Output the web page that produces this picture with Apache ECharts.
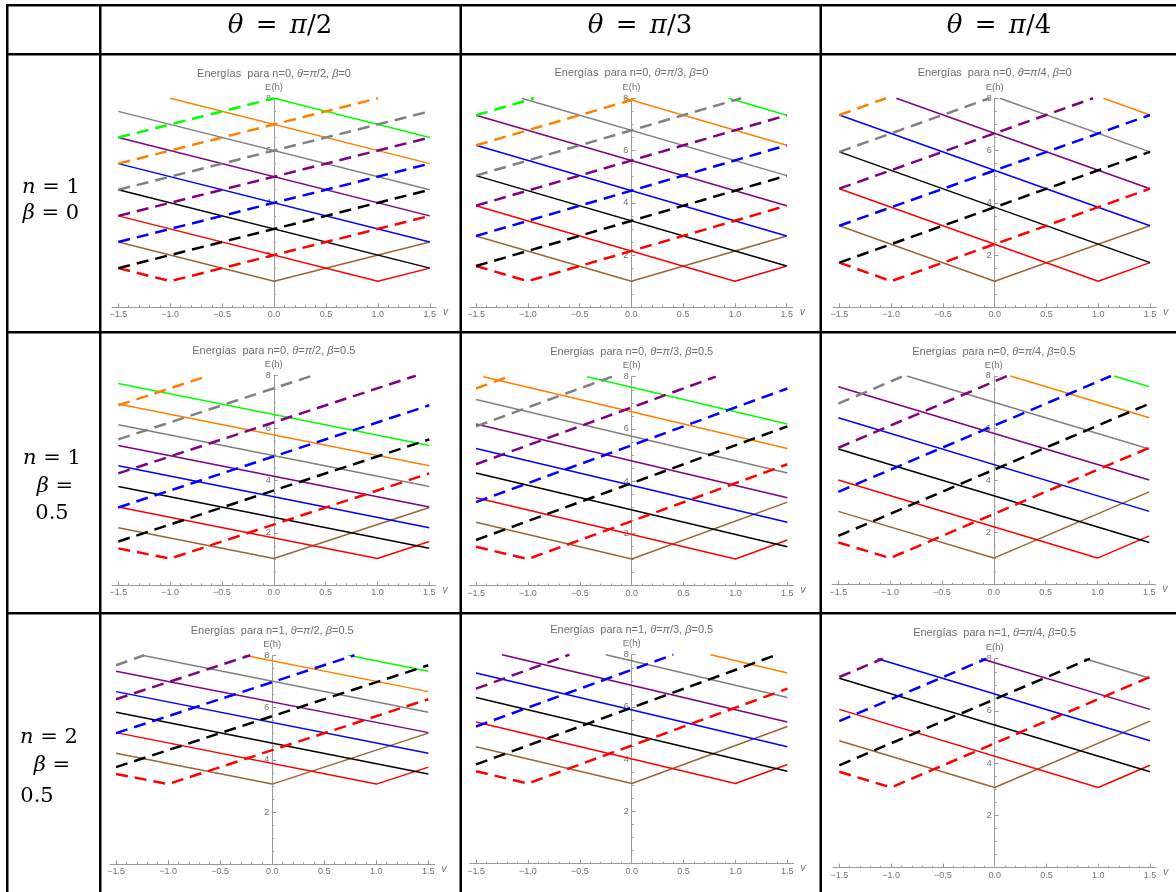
<!DOCTYPE html>
<html><head><meta charset="utf-8">
<script src="https://cdn.jsdelivr.net/npm/echarts@6/dist/echarts.min.js"></script>
<style>html,body{margin:0;padding:0;background:#fff}#c{width:1176px;height:892px}</style>
</head><body><div id="c"></div>
<script>
// ---------- DATA ----------
// level index k: 0 brown, 1 red, 2 black, 3 blue, 4 purple, 5 gray, 6 orange, 7 green
const levelColors = ['#996633','#ff0000','#000000','#0000ff','#800080','#808080','#ff8000','#00ff00'];
const vTicks = [-1.5,-1,-0.5,0,0.5,1,1.5];
const vMinorTicks = [-1.4,-1.3,-1.2,-1.1,-0.9,-0.8,-0.7,-0.6,-0.4,-0.3,-0.2,-0.1,0.1,0.2,0.3,0.4,0.6,0.7,0.8,0.9,1.1,1.2,1.3,1.4];
const colHeaders = ['π/2','π/3','π/4'];
const plotTitles = [
  ['0','π/2','0'],['0','π/3','0'],['0','π/4','0'],
  ['0','π/2','0.5'],['0','π/3','0.5'],['0','π/4','0.5'],
  ['1','π/2','0.5'],['1','π/3','0.5'],['1','π/4','0.5']
];

// Row 1: n=0, beta=0
const r1c1_solid = [
  [[-1.5,2.5],[0,1],[1.5,2.5]],
  [[-1.5,3.5],[1,1],[1.5,1.5]],
  [[-1.5,4.5],[1.5,1.5]],
  [[-1.5,5.5],[1.5,2.5]],
  [[-1.5,6.5],[1.5,3.5]],
  [[-1.5,7.5],[1.5,4.5]],
  [[-1,8],[1.5,5.5]],
  [[0,8],[1.5,6.5]]
];
const r1c1_dashed = [
  null,
  [[-1.5,1.5],[-1,1],[1.5,3.5]],
  [[-1.5,1.5],[1.5,4.5]],
  [[-1.5,2.5],[1.5,5.5]],
  [[-1.5,3.5],[1.5,6.5]],
  [[-1.5,4.5],[1.5,7.5]],
  [[-1.5,5.5],[1,8]],
  [[-1.5,6.5],[0,8]]
];
const r1c2_solid = [
  [[-1.5,2.73],[0,1],[1.5,2.73]],
  [[-1.5,3.89],[1,1],[1.5,1.58]],
  [[-1.5,5.04],[1.5,1.58]],
  [[-1.5,6.20],[1.5,2.73]],
  [[-1.5,7.35],[1.5,3.89]],
  [[-1.06,8],[1.5,5.04]],
  [[-0.06,8],[1.5,6.20]],
  [[0.94,8],[1.5,7.35]]
];
const r1c2_dashed = [
  null,
  [[-1.5,1.58],[-1,1],[1.5,3.89]],
  [[-1.5,1.58],[1.5,5.04]],
  [[-1.5,2.73],[1.5,6.20]],
  [[-1.5,3.89],[1.5,7.35]],
  [[-1.5,5.04],[1.06,8]],
  [[-1.5,6.20],[0.06,8]],
  [[-1.5,7.35],[-0.94,8]]
];
const r1c3_solid = [
  [[-1.5,3.12],[0,1],[1.5,3.12]],
  [[-1.5,4.54],[1,1],[1.5,1.71]],
  [[-1.5,5.95],[1.5,1.71]],
  [[-1.5,7.36],[1.5,3.12]],
  [[-0.95,8],[1.5,4.54]],
  [[0.05,8],[1.5,5.95]],
  [[1.05,8],[1.5,7.36]],
  null
];
const r1c3_dashed = [
  null,
  [[-1.5,1.71],[-1,1],[1.5,4.54]],
  [[-1.5,1.71],[1.5,5.95]],
  [[-1.5,3.12],[1.5,7.36]],
  [[-1.5,4.54],[0.95,8]],
  [[-1.5,5.95],[-0.05,8]],
  [[-1.5,7.36],[-1.05,8]],
  null
];
// Row 2: n=0, beta=0.5
const r2c1_solid = [
  [[-1.5,2.20],[0,1.02],[1.5,2.97]],
  [[-1.5,2.99],[1,1.02],[1.5,1.67]],
  [[-1.5,3.77],[1.5,1.41]],
  [[-1.5,4.56],[1.5,2.20]],
  [[-1.5,5.34],[1.5,2.99]],
  [[-1.5,6.13],[1.5,3.77]],
  [[-1.5,6.92],[1.5,4.56]],
  [[-1.5,7.70],[1.5,5.34]]
];
const r2c1_dashed = [
  null,
  [[-1.5,1.41],[-1,1.02],[1.5,4.27]],
  [[-1.5,1.67],[1.5,5.57]],
  [[-1.5,2.97],[1.5,6.87]],
  [[-1.5,4.27],[1.37,8]],
  [[-1.5,5.57],[0.37,8]],
  [[-1.5,6.87],[-0.63,8]],
  null
];
const r2c2_solid = [
  [[-1.5,2.43],[0,1.02],[1.5,3.20]],
  [[-1.5,3.37],[1,1.02],[1.5,1.75]],
  [[-1.5,4.31],[1.5,1.49]],
  [[-1.5,5.25],[1.5,2.43]],
  [[-1.5,6.19],[1.5,3.37]],
  [[-1.5,7.13],[1.5,4.31]],
  [[-1.43,8],[1.5,5.25]],
  [[-0.43,8],[1.5,6.19]]
];
const r2c2_dashed = [
  null,
  [[-1.5,1.49],[-1,1.02],[1.5,4.65]],
  [[-1.5,1.75],[1.5,6.10]],
  [[-1.5,3.20],[1.5,7.55]],
  [[-1.5,4.65],[0.81,8]],
  [[-1.5,6.10],[-0.19,8]],
  [[-1.5,7.55],[-1.19,8]],
  null
];
const r2c3_solid = [
  [[-1.5,2.81],[0,1.02],[1.5,3.56]],
  [[-1.5,4.01],[1,1.02],[1.5,1.87]],
  [[-1.5,5.20],[1.5,1.62]],
  [[-1.5,6.40],[1.5,2.81]],
  [[-1.5,7.59],[1.5,4.01]],
  [[-0.84,8],[1.5,5.20]],
  [[0.16,8],[1.5,6.40]],
  [[1.16,8],[1.5,7.59]]
];
const r2c3_dashed = [
  null,
  [[-1.5,1.62],[-1,1.02],[1.5,5.25]],
  [[-1.5,1.87],[1.5,6.94]],
  [[-1.5,3.56],[1.13,8]],
  [[-1.5,5.25],[0.13,8]],
  [[-1.5,6.94],[-0.87,8]],
  null,
  null
];
// Row 3: n=1, beta=0.5
const r3c1_solid = [
  [[-1.5,4.25],[0,3.07],[1.5,5.02]],
  [[-1.5,5.04],[1,3.07],[1.5,3.72]],
  [[-1.5,5.82],[1.5,3.46]],
  [[-1.5,6.61],[1.5,4.25]],
  [[-1.5,7.39],[1.5,5.04]],
  [[-1.25,8],[1.5,5.82]],
  [[-0.27,8],[1.5,6.61]],
  [[0.73,8],[1.5,7.39]]
];
const r3c1_dashed = [
  null,
  [[-1.5,3.46],[-1,3.07],[1.5,6.32]],
  [[-1.5,3.72],[1.5,7.62]],
  [[-1.5,5.02],[0.79,8]],
  [[-1.5,6.32],[-0.21,8]],
  [[-1.5,7.62],[-1.23,8]],
  null,
  null
];
const r3c2_solid = [
  [[-1.5,4.48],[0,3.07],[1.5,5.25]],
  [[-1.5,5.42],[1,3.07],[1.5,3.80]],
  [[-1.5,6.36],[1.5,3.54]],
  [[-1.5,7.30],[1.5,4.48]],
  [[-1.25,8],[1.5,5.42]],
  [[-0.25,8],[1.5,6.36]],
  [[0.76,8],[1.5,7.30]],
  null
];
const r3c2_dashed = [
  null,
  [[-1.5,3.54],[-1,3.07],[1.5,6.70]],
  [[-1.5,3.80],[1.40,8]],
  [[-1.5,5.25],[0.40,8]],
  [[-1.5,6.70],[-0.60,8]],
  null,
  null,
  null
];
const r3c3_solid = [
  [[-1.5,4.86],[0,3.07],[1.5,5.61]],
  [[-1.5,6.06],[1,3.07],[1.5,3.92]],
  [[-1.5,7.25],[1.5,3.67]],
  [[-1.13,8],[1.5,4.86]],
  [[-0.13,8],[1.5,6.06]],
  [[0.87,8],[1.5,7.25]],
  null,
  null
];
const r3c3_dashed = [
  null,
  [[-1.5,3.67],[-1,3.07],[1.5,7.30]],
  [[-1.5,3.92],[0.92,8]],
  [[-1.5,5.61],[-0.08,8]],
  [[-1.5,7.30],[-1.08,8]],
  null,
  null,
  null
];

const plotSolid  = [r1c1_solid, r1c2_solid, r1c3_solid, r2c1_solid, r2c2_solid, r2c3_solid, r3c1_solid, r3c2_solid, r3c3_solid];
const plotDashed = [r1c1_dashed, r1c2_dashed, r1c3_dashed, r2c1_dashed, r2c2_dashed, r2c3_dashed, r3c1_dashed, r3c2_dashed, r3c3_dashed];

// ---------- LAYOUT ----------
const gridBoxes = [
  {left:112.1, top:98.3, width:323.9, height:209},
  {left:469.8, top:98.3, width:323.1, height:209},
  {left:833.1, top:98.3, width:323.1, height:209},
  {left:112.1, top:375.7, width:323.4, height:209.6},
  {left:469.8, top:376.7, width:323.8, height:209},
  {left:832.1, top:376, width:323.4, height:208.7},
  {left:109.8, top:655.3, width:324.8, height:209},
  {left:469.8, top:654.7, width:323.8, height:209},
  {left:833.1, top:658.7, width:323.1, height:209}
];
const titleY = [74,72.5,73.3, 350.7,351.5,351.5, 631,629.5,633];

const AX = '#9a9a9a', LB = '#707070', SANS = 'Liberation Sans, Arial, sans-serif', SERIF = 'DejaVu Serif, serif';
const fmt = v => v.toFixed(1).replace('-', '\u2212');

const grids = [], xAxes = [], yAxes = [], series = [], graphics = [];
gridBoxes.forEach((g, i) => {
  grids.push(Object.assign({}, g));
  xAxes.push({
    type:'value', gridIndex:i, min:-1.56, max:1.56, position:'bottom',
    axisLine:{onZero:false, lineStyle:{color:AX, width:1}},
    axisTick:{inside:true, length:4, customValues:vTicks, lineStyle:{color:AX}},
    axisLabel:{customValues:vTicks, formatter:fmt, fontSize:9, color:LB, margin:3, fontFamily:SANS},
    splitLine:{show:false},
    name:'v', nameLocation:'end', nameGap:7,
    nameTextStyle:{fontSize:10, color:LB, fontStyle:'italic', fontFamily:SANS, verticalAlign:'top'}
  });
  xAxes.push({
    type:'value', gridIndex:i, min:-1.56, max:1.56, position:'bottom',
    axisLine:{show:false, onZero:false},
    axisTick:{inside:true, length:2, customValues:vMinorTicks, lineStyle:{color:AX}},
    axisLabel:{show:false}, splitLine:{show:false}
  });
  // the vertical axis crosses the horizontal one at v = 0 (the middle of the symmetric range)
  yAxes.push({
    type:'value', gridIndex:i, min:0, max:8, interval:2, position:'left', offset: -g.width/2,
    axisLine:{show:true, onZero:false, lineStyle:{color:AX, width:1}},
    axisTick:{inside:true, length:4, lineStyle:{color:AX}},
    minorTick:{show:true, splitNumber:4, length:2, lineStyle:{color:AX}},
    axisLabel:{showMinLabel:false, fontSize:9, color:LB, margin:3, fontFamily:SANS},
    splitLine:{show:false}, minorSplitLine:{show:false},
    name:'E(h)', nameLocation:'end', nameGap:6,
    nameTextStyle:{fontSize:9.5, color:LB, fontFamily:SANS, align:'center'}
  });
  const mk = (pts, k, dashed) => ({
    type:'line', xAxisIndex:2*i, yAxisIndex:i, data:pts, symbol:'none', showSymbol:false,
    silent:true, animation:false, clip:true, z: dashed ? 3 : 2,
    lineStyle:{color:levelColors[k], width: dashed ? 2.5 : 1.5, type: dashed ? [12,7] : 'solid', cap:'butt'}
  });
  plotSolid[i].forEach((pts, k) => { if (pts) series.push(mk(pts, k, false)); });
  plotDashed[i].forEach((pts, k) => { if (pts) series.push(mk(pts, k, true)); });
  // subplot title
  const t = plotTitles[i];
  graphics.push({
    type:'text', x: g.left + g.width/2, y: titleY[i], z:10,
    style:{
      text:'Energías  para n=' + t[0] + ', {i|θ}=' + t[1].replace('π','{i|π}') + ', {i|β}=' + t[2],
      rich:{i:{fontStyle:'italic', fontSize:11, fontFamily:SANS, fill:'#6e6e6e'}},
      fontSize:11, fontFamily:SANS, fill:'#6e6e6e', align:'center', verticalAlign:'middle'
    }
  });
});

// table borders
const rect = (x,y,w,h) => ({type:'rect', shape:{x:x,y:y,width:w,height:h}, style:{fill:'#000'}, z:20});
graphics.push(rect(6,4,1170,2.5), rect(6,4,2.5,888), rect(99,4,2.5,888), rect(459.5,4,2.5,888), rect(819.5,4,2.5,888),
              rect(6,53,1170,2.5), rect(6,331,1170,2.5), rect(6,612,1170,2.5));

// column headers
const hdrX = [280, 640, 999];
const serifRich = (sz) => ({
  i:{fontStyle:'italic', fontSize:sz, fontFamily:SERIF, fill:'#000'},
  e:{fontSize:sz, fontFamily:SERIF, fill:'#000', padding:[0,4,0,4]}
});
colHeaders.forEach((h, c) => {
  graphics.push({
    type:'text', x:hdrX[c], y:26, z:10,
    style:{text:'{i|θ} {e|=} {i|π}/' + h.split('/')[1], rich:serifRich(26), fontSize:26, fontFamily:SERIF, fill:'#000', align:'center', verticalAlign:'middle'}
  });
});
// row labels
const rowLabelLines = [
  [['{i|n} = 1',51,188],['{i|β} = 0',51,214]],
  [['{i|n} = 1',52,459],['{i|β} =',55,487],['0.5',52,514]],
  [['{i|n} = 2',49,738],['{i|β} =',52,766],['0.5',37,797]]
];
rowLabelLines.forEach(lines => lines.forEach(l => {
  graphics.push({
    type:'text', x:l[1], y:l[2], z:10,
    style:{text:l[0], rich:{i:{fontStyle:'italic', fontSize:21, fontFamily:SERIF, fill:'#000'}}, fontSize:21, fontFamily:SERIF, fill:'#000', align:'center', verticalAlign:'middle'}
  });
}));

const chart = echarts.init(document.getElementById('c'), null, {renderer:'canvas'});
chart.setOption({
  backgroundColor:'#ffffff', animation:false,
  grid:grids, xAxis:xAxes, yAxis:yAxes, series:series, graphic:graphics
});
</script>
</body></html>
